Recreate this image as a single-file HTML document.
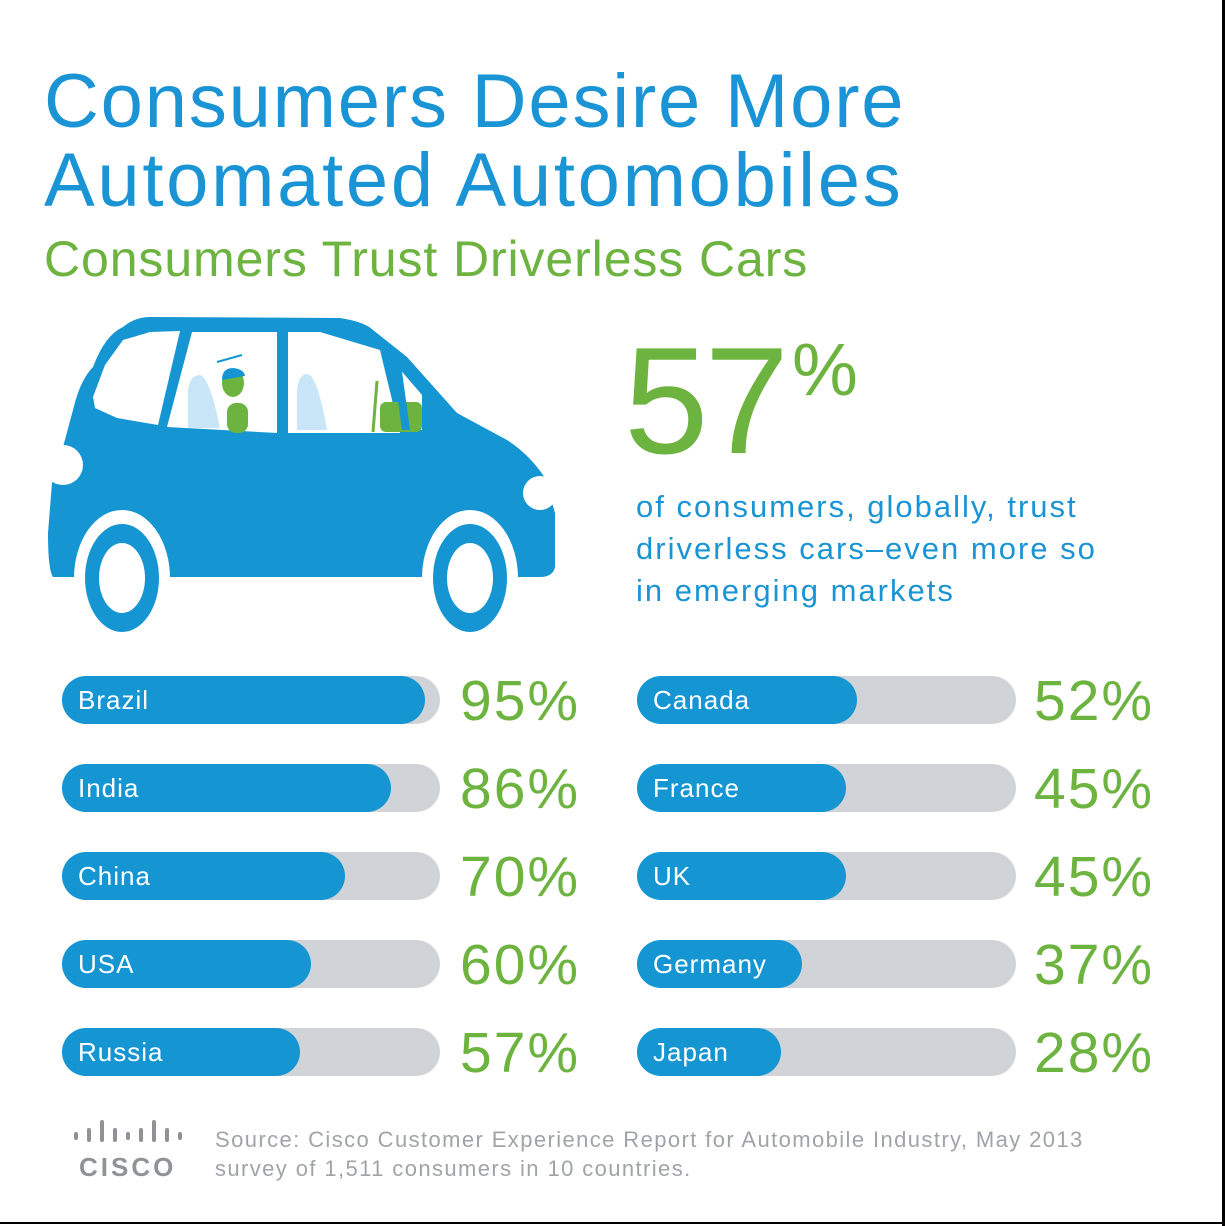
<!DOCTYPE html>
<html><head><meta charset="utf-8"><style>
body{margin:0;width:1225px;height:1226px;background:#fff;position:relative;overflow:hidden;font-family:"Liberation Sans",sans-serif}
.a{position:absolute;white-space:nowrap}
.t{color:#1a94d4;font-size:76px;left:44px;line-height:1}
.track{position:absolute;height:48px;border-radius:24px;background:#d0d3d8}
.fill{position:absolute;left:0;top:0;height:48px;border-radius:24px;background:#1695d3;color:#fff;font-size:26px;line-height:48px;padding-left:16px;box-sizing:border-box;letter-spacing:1px}
.p{position:absolute;color:#6db33f;font-size:57px;line-height:1;letter-spacing:2px}
</style></head><body>
<div class="a t" style="top:64px;letter-spacing:1.8px">Consumers Desire More</div>
<div class="a t" style="top:143px;letter-spacing:2.7px">Automated Automobiles</div>
<div class="a" style="left:44px;top:234px;font-size:50px;color:#6db33f;line-height:1;letter-spacing:0.9px">Consumers Trust Driverless Cars</div>

<svg class="a" style="left:0;top:0" width="620" height="640">
<path fill="#1695d3" d="M63,447 L73,410 Q80,380 93,367 Q105,335 123,327 Q135,317 150,317 L340,318 Q365,322 373,330 L407,357 L457,413 L507,440 Q530,455 545,478 L555,513 L555,567 Q553,577 540,577 L53,577 Q48,570 48,533 L52,483 Z"/>
<circle cx="63" cy="465" r="20" fill="#fff"/><circle cx="540" cy="493" r="17" fill="#fff"/>
<ellipse cx="122" cy="578" rx="48" ry="68" fill="#fff"/><ellipse cx="470" cy="578" rx="48" ry="68" fill="#fff"/>
<rect x="40" y="578" width="540" height="60" fill="#fff"/>
<ellipse cx="122" cy="578" rx="37" ry="54" fill="#1695d3"/><ellipse cx="122" cy="578" rx="23" ry="35" fill="#fff"/>
<ellipse cx="470" cy="578" rx="37" ry="54" fill="#1695d3"/><ellipse cx="470" cy="578" rx="23" ry="35" fill="#fff"/>
<polygon fill="#fff" points="93,397 105,365 123,340 150,332 180,331 158,425 117,418 95,408"/>
<polygon fill="#fff" points="192,332 277,332 277,433 167,427"/>
<polygon fill="#fff" points="288,332 320,332 380,350 400,433 288,433"/>
<polygon fill="#fff" points="398,367 422,395 422,430 410,430"/>
<path fill="#c8e6f8" d="M188,428 L188,390 Q190,375 200,375 Q210,378 220,428Z"/>
<path fill="#c8e6f8" d="M297,430 L297,390 Q299,373 308,374 Q318,378 327,430Z"/>
<ellipse cx="233" cy="383" rx="11" ry="14" fill="#6db33f"/>
<path fill="#1695d3" d="M222,380 Q222,368 233,368 Q244,369 245,376Z"/>
<line x1="217" y1="362" x2="242" y2="355" stroke="#1695d3" stroke-width="2"/>
<rect x="227" y="403" width="21" height="30" rx="9" fill="#6db33f"/>
<rect x="380" y="402" width="42" height="30" rx="6" fill="#6db33f"/>
<line x1="377" y1="381" x2="373" y2="432" stroke="#6db33f" stroke-width="3"/>
<polygon fill="#1695d3" points="392,357 400,357 410,430 402,430"/>
</svg>

<div class="a" style="left:624px;top:325px;font-size:152px;color:#6db33f;line-height:1;letter-spacing:-4px">57</div>
<div class="a" style="left:792px;top:333px;font-size:74px;color:#6db33f;line-height:1">%</div>
<div class="a" style="left:636px;top:486px;font-size:31px;color:#1a94d4;line-height:42px;letter-spacing:2px">of consumers, globally, trust<br>driverless cars–even more so<br>in emerging markets</div>

<div class="track" style="left:62px;top:676px;width:378px"><div class="fill" style="width:363px">Brazil</div></div><div class="p" style="left:460px;top:673px">95%</div>
<div class="track" style="left:62px;top:764px;width:378px"><div class="fill" style="width:329px">India</div></div><div class="p" style="left:460px;top:761px">86%</div>
<div class="track" style="left:62px;top:852px;width:378px"><div class="fill" style="width:283px">China</div></div><div class="p" style="left:460px;top:849px">70%</div>
<div class="track" style="left:62px;top:940px;width:378px"><div class="fill" style="width:249px">USA</div></div><div class="p" style="left:460px;top:937px">60%</div>
<div class="track" style="left:62px;top:1028px;width:378px"><div class="fill" style="width:238px">Russia</div></div><div class="p" style="left:460px;top:1025px">57%</div>

<div class="track" style="left:637px;top:676px;width:379px"><div class="fill" style="width:220px">Canada</div></div><div class="p" style="left:1034px;top:673px">52%</div>
<div class="track" style="left:637px;top:764px;width:379px"><div class="fill" style="width:209px">France</div></div><div class="p" style="left:1034px;top:761px">45%</div>
<div class="track" style="left:637px;top:852px;width:379px"><div class="fill" style="width:209px">UK</div></div><div class="p" style="left:1034px;top:849px">45%</div>
<div class="track" style="left:637px;top:940px;width:379px"><div class="fill" style="width:165px">Germany</div></div><div class="p" style="left:1034px;top:937px">37%</div>
<div class="track" style="left:637px;top:1028px;width:379px"><div class="fill" style="width:144px">Japan</div></div><div class="p" style="left:1034px;top:1025px">28%</div>

<svg class="a" style="left:70px;top:1120px" width="115" height="60">
<g fill="#8f9296">
<rect x="4" y="12" width="4" height="8" rx="2"/><rect x="17" y="8" width="4" height="14" rx="2"/><rect x="30" y="0" width="4" height="22" rx="2"/>
<rect x="43" y="8" width="4" height="14" rx="2"/><rect x="56" y="12" width="4" height="8" rx="2"/><rect x="69" y="8" width="4" height="14" rx="2"/>
<rect x="82" y="0" width="4" height="22" rx="2"/><rect x="95" y="8" width="4" height="14" rx="2"/><rect x="108" y="12" width="4" height="8" rx="2"/>
</g>
<text x="9" y="56" font-family="Liberation Sans" font-weight="bold" font-size="26" fill="#8f9296" letter-spacing="3">CISCO</text>
</svg>
<div class="a" style="left:215px;top:1125px;font-size:22px;color:#a0a3a8;line-height:29px;letter-spacing:1.4px">Source: Cisco Customer Experience Report for Automobile Industry, May 2013<br>survey of 1,511 consumers in 10 countries.</div>

<div class="a" style="left:1222px;top:0;width:3px;height:1226px;background:#000"></div>
<div class="a" style="left:0;top:1222px;width:1225px;height:2px;background:#000"></div>
</body></html>
